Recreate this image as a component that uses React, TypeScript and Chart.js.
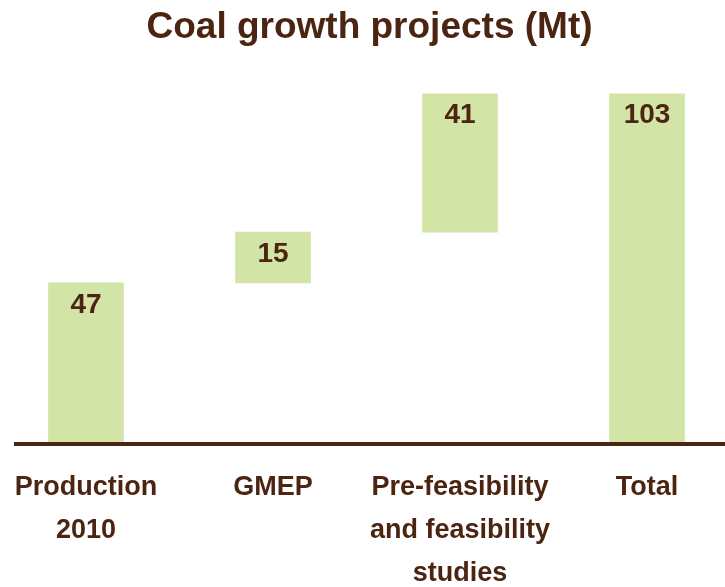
import React, { useEffect, useRef } from "react";
import { Chart, registerables } from "chart.js";

Chart.register(...registerables);

const categories: string[][] = [
  ["Production", "2010"],
  ["GMEP"],
  ["Pre-feasibility", "and feasibility", "studies"],
  ["Total"],
];
const barStarts = [0, 47, 62, 0];
const barEnds = [47, 62, 103, 103];
const valueLabels = ["47", "15", "41", "103"];
const titleText = "Coal growth projects (Mt)";

const BROWN = "#4b2512";
const GREEN = "#d2e4a6";
const FONT = "'Liberation Sans', Arial, Helvetica, sans-serif";

const overlayPlugin = {
  id: "overlay",
  afterDatasetsDraw(chart: any) {
    const ctx = chart.ctx;
    const area = chart.chartArea;
    ctx.save();
    ctx.fillStyle = BROWN;
    ctx.fillRect(area.left, area.bottom, chart.width - area.left, 4);
    const meta = chart.getDatasetMeta(0);
    ctx.font = `bold 28px ${FONT}`;
    ctx.textAlign = "center";
    ctx.textBaseline = "middle";
    meta.data.forEach((bar: any, i: number) => {
      const top = Math.min(bar.y, bar.base);
      ctx.fillText(valueLabels[i], bar.x, top + 22);
    });
    ctx.restore();
  },
};

export default function App() {
  const ref = useRef<HTMLCanvasElement>(null);
  useEffect(() => {
    document.body.style.margin = "0";
    const chart = new Chart(ref.current!, {
      type: "bar",
      data: {
        datasets: [
          {
            data: barStarts.map((s, i) => ({ x: i, y: [s, barEnds[i]] })) as any,
            backgroundColor: GREEN,
            borderWidth: 0,
            barThickness: 75,
          },
        ],
      },
      options: {
        animation: false,
        responsive: false,
        maintainAspectRatio: false,
        layout: { padding: { left: 14, right: 0, top: 0, bottom: 0 } },
        plugins: {
          legend: { display: false },
          tooltip: { enabled: false },
          title: {
            display: true,
            text: titleText,
            color: BROWN,
            font: { family: FONT, size: 37, weight: "bold", lineHeight: 1.2 },
            padding: { top: 6, bottom: 43 },
          },
        },
        scales: {
          x: {
            type: "linear",
            min: -0.385,
            max: 3.417,
            offset: false,
            grid: { display: false, drawTicks: false },
            border: { display: false },
            afterBuildTicks: (scale: any) => {
              scale.ticks = categories.map((_, i) => ({ value: i }));
            },
            ticks: {
              color: BROWN,
              padding: 24,
              maxRotation: 0,
              autoSkip: false,
              font: { family: FONT, size: 27, weight: "bold", lineHeight: 1.6 },
              callback: (value: any) => categories[Math.round(Number(value))] ?? "",
            },
            afterFit: (scale: any) => {
              scale.height = 145;
              scale.paddingLeft = 0;
              scale.paddingRight = 0;
            },
          },
          y: {
            display: false,
            min: 0,
            max: 103,
          },
        },
      },
      plugins: [overlayPlugin],
    });
    return () => chart.destroy();
  }, []);
  return (
    <div style={{ position: "absolute", left: 0, top: 0, width: 725, height: 587 }}>
      <canvas ref={ref} width={725} height={587} style={{ display: "block" }} />
    </div>
  );
}
